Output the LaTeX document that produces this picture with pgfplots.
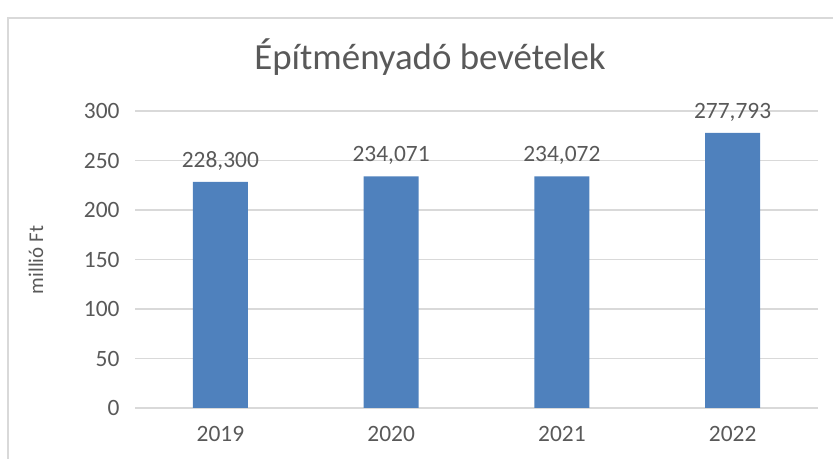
\documentclass[border=0pt]{standalone}
\usepackage{pgfplots}
\pgfplotsset{compat=1.18}
\usepackage{fontspec}
\setmainfont{Carlito}
\definecolor{barblue}{HTML}{4F81BD}
\definecolor{txtc}{HTML}{595959}
\definecolor{gridc}{HTML}{D9D9D9}
\begin{document}
\begin{tikzpicture}[x=1bp,y=1bp]
\begin{axis}[
  at={(135bp,51bp)}, anchor=south west,
  scale only axis, width=683bp, height=297bp,
  xmin=-0.5, xmax=3.5, ymin=0, ymax=300,
  axis line style={draw=none},
  tick style={draw=none},
  ymajorgrids, xmajorgrids=false,
  y grid style={draw=gridc, line width=1.2bp},
  ytick={0,50,...,300},
  xtick={0,1,2,3}, xticklabels={2019,2020,2021,2022},
  major tick length=0pt,
  /pgf/number format/assume math mode=true,
  ticklabel style={font=\fontsize{23.5}{28}\selectfont, text=txtc},
  yticklabel style={xshift=-12bp},
  xticklabel style={yshift=-15bp},
  ybar, bar width=55bp,
  nodes near coords,
  point meta=explicit symbolic,
  nodes near coords style={font=\fontsize{23.5}{28}\selectfont, text=txtc, anchor=south, yshift=8bp},
]
\addplot[fill=barblue, draw=none] table[meta=lab] {
x y lab
0 228.300 228,300
1 234.071 234,071
2 234.072 234,072
3 277.793 277,793
};
\end{axis}
\node[font=\fontsize{37}{44}\selectfont, text=txtc] at (430bp,402bp) {Építményadó bevételek};
\node[font=\fontsize{21}{25}\selectfont, text=txtc, rotate=90] at (36bp,199bp) {millió Ft};
\draw[gridc, line width=1.5bp] (8bp,0) -- (8bp,441bp) -- (833bp,441bp);
\pgfresetboundingbox
\useasboundingbox (0,0) rectangle (833bp,459bp);
\end{tikzpicture}
\end{document}
